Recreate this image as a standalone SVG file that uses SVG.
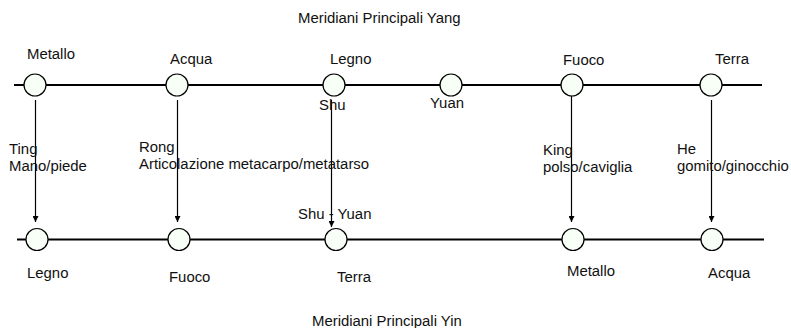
<svg xmlns="http://www.w3.org/2000/svg" width="791" height="328" viewBox="0 0 791 328">
<defs>
<marker id="ah" viewBox="0 0 10 10" refX="10" refY="5" markerWidth="6" markerHeight="6" markerUnits="userSpaceOnUse" orient="auto"><path d="M0,0 L10,5 L0,10 z" fill="#000"/></marker>
</defs>
<style>
text{font-family:"Liberation Sans",Arial,sans-serif;font-size:14.9px;fill:#111}
.axis{stroke:#000;stroke-width:2.2;fill:none}
.node{fill:#f7fff7;stroke:#000;stroke-width:1.2}
.arr{stroke:#000;stroke-width:1.2;fill:none;marker-end:url(#ah)}
</style>
<rect width="791" height="328" fill="#fff"/>
<g id="axes">
<line class="axis" x1="14" y1="85" x2="762" y2="85"/>
<line class="axis" x1="17" y1="239.5" x2="764" y2="239.5"/>
</g>
<g id="connectors">
<line class="arr" x1="35.5" y1="100" x2="35.5" y2="222"/>
<line class="arr" x1="177.5" y1="100" x2="177.5" y2="222"/>
<line class="arr" x1="331.5" y1="100" x2="331.5" y2="227"/>
<line class="arr" x1="571.5" y1="96" x2="571.5" y2="222"/>
<line class="arr" x1="711.5" y1="100" x2="711.5" y2="222"/>
</g>
<g id="yang-metallo"><circle class="node" cx="35" cy="85" r="11"/><text x="27" y="59">Metallo</text></g>
<g id="yang-acqua"><circle class="node" cx="177" cy="85" r="11"/><text x="170" y="64">Acqua</text></g>
<g id="yang-legno"><circle class="node" cx="334" cy="85" r="11"/><text x="330" y="64">Legno</text><text x="319" y="110">Shu</text></g>
<g id="yang-yuan"><circle class="node" cx="451" cy="85" r="11"/><text x="430" y="108">Yuan</text></g>
<g id="yang-fuoco"><circle class="node" cx="572" cy="85" r="11"/><text x="563" y="65">Fuoco</text></g>
<g id="yang-terra"><circle class="node" cx="711" cy="85" r="11"/><text x="715" y="64">Terra</text></g>
<g id="yin-legno"><circle class="node" cx="37" cy="239.5" r="11"/><text x="27" y="278">Legno</text></g>
<g id="yin-fuoco"><circle class="node" cx="179" cy="239.5" r="11"/><text x="169" y="282">Fuoco</text></g>
<g id="yin-terra"><circle class="node" cx="336" cy="239.5" r="11"/><text x="337" y="282">Terra</text></g>
<g id="yin-metallo"><circle class="node" cx="573" cy="239.5" r="11"/><text x="567" y="276">Metallo</text></g>
<g id="yin-acqua"><circle class="node" cx="712" cy="239.5" r="11"/><text x="708" y="278">Acqua</text></g>
<g id="labels">
<text x="298" y="23">Meridiani Principali Yang</text>
<text x="312" y="326">Meridiani Principali Yin</text>
<text x="9" y="154">Ting</text><text x="9" y="171">Mano/piede</text>
<text x="139" y="152">Rong</text><text x="139" y="169">Articolazione metacarpo/metatarso</text>
<text x="298" y="219">Shu - Yuan</text>
<text x="543" y="155">King</text><text x="543" y="172">polso/caviglia</text>
<text x="677" y="154">He</text><text x="677" y="171">gomito/ginocchio</text>
</g>
</svg>
